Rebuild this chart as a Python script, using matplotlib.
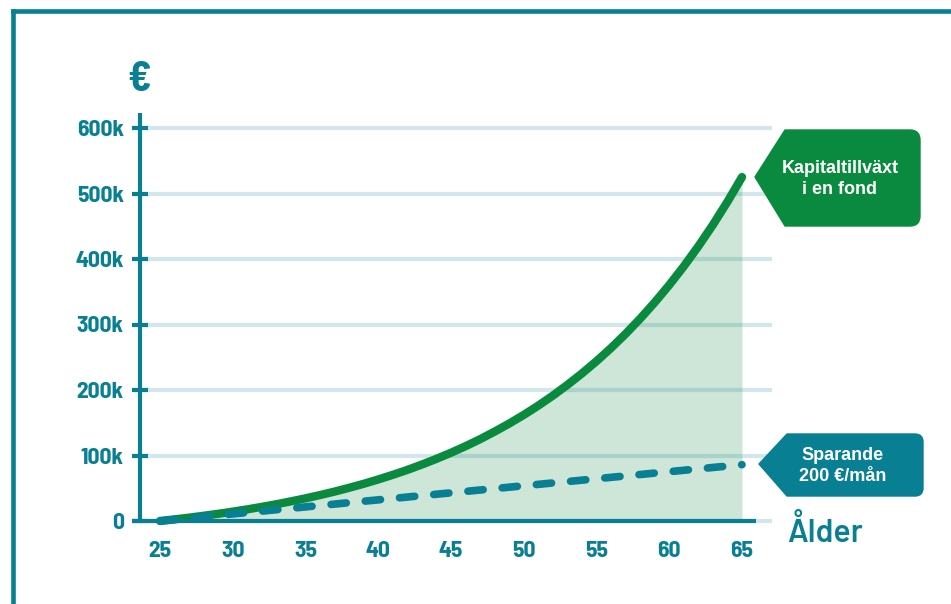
import matplotlib
matplotlib.use("Agg")
import matplotlib.pyplot as plt
from matplotlib import font_manager
from matplotlib.path import Path
from matplotlib.patches import PathPatch
from matplotlib.lines import Line2D
from matplotlib.ticker import FixedLocator, FixedFormatter

# ---------------- data ----------------
ages = list(range(25, 66))
capital_k = [0, 2.5, 5.1, 8.0, 11.0, 14.3, 17.8, 21.6, 25.6, 30.0,
             34.6, 39.6, 44.9, 50.7, 56.8, 63.4, 70.5, 78.0, 86.2, 94.9,
             104.2, 114.2, 124.9, 136.5, 148.8, 162.0, 176.2, 191.4, 207.8, 225.3,
             244.0, 264.1, 285.7, 308.9, 333.7, 360.3, 388.8, 419.4, 452.2, 487.4,
             525.1]
savings_ages = [25, 30, 35, 40, 45, 50, 55, 60, 65]
savings_k = [0, 10.8, 21.5, 32.3, 43.0, 53.8, 64.5, 75.3, 86.0]
xticks = [25, 30, 35, 40, 45, 50, 55, 60, 65]
yticks_k = [0, 100, 200, 300, 400, 500, 600]
ytick_labels = ["0", "100k", "200k", "300k", "400k", "500k", "600k"]
label_fund = "Kapitaltillväxt\ni en fond"
label_save = "Sparande\n200 €/mån"
xlabel = "Ålder"
ylabel = "€"

TEAL = "#087f93"
GREEN = "#0a8a3f"
FILL = "#cde6d7"


def pick(fams):
    for f in fams:
        try:
            font_manager.findfont(font_manager.FontProperties(family=f), fallback_to_default=False)
            return f
        except Exception:
            pass
    return "DejaVu Sans"

COND = pick(["Barlow Semi Condensed", "Barlow Condensed", "Roboto Condensed",
             "IBM Plex Sans Condensed", "DejaVu Sans"])
BOX = pick(["Liberation Sans", "Arimo", "DejaVu Sans"])
LAB = pick(["Barlow", "Lato", "Open Sans", "DejaVu Sans"])

W, H = 951, 604
fig = plt.figure(figsize=(W / 100, H / 100), dpi=100)

# axes mapping: x 25 -> px160, 65 -> px742 ; y 0 -> px521, 600k -> px128
pxx = (742 - 160) / 40.0
pxy = (521 - 128) / 600.0
ax_l, ax_r = 132, 772
ax_t, ax_b = 113, 527.5
xmin = 25 - (160 - ax_l) / pxx
xmax = 65 + (ax_r - 742) / pxx
ymin = -(ax_b - 521) / pxy
ymax = (521 - ax_t) / pxy
ax = fig.add_axes([ax_l / W, 1 - ax_b / H, (ax_r - ax_l) / W, (ax_b - ax_t) / H])
ax.set_xlim(xmin, xmax)
ax.set_ylim(ymin, ymax)
ax.patch.set_alpha(0)

yaxis_x = 25 - (160 - 140) / pxx
xaxis_end = 65 + (756 - 742) / pxx

for s in ["top", "right"]:
    ax.spines[s].set_visible(False)
ax.spines["left"].set_position(("data", yaxis_x))
ax.spines["left"].set_bounds(0, ymax)
ax.spines["bottom"].set_position(("data", 0))
ax.spines["bottom"].set_bounds(xmin, xaxis_end)
for s in ["left", "bottom"]:
    ax.spines[s].set_color(TEAL)
    ax.spines[s].set_linewidth(3.0)
    ax.spines[s].set_capstyle("butt")
    ax.spines[s].set_zorder(5)

ax.yaxis.set_major_locator(FixedLocator(yticks_k))
ax.yaxis.set_major_formatter(FixedFormatter(ytick_labels))
ax.tick_params(axis="y", direction="inout", length=11.5, width=3.0, color=TEAL,
               labelcolor=TEAL, pad=6.0, labelsize=17)
ax.xaxis.set_major_locator(FixedLocator(xticks))
ax.tick_params(axis="x", length=0, labelcolor=TEAL, pad=14.5, labelsize=17)
for lab in ax.get_xticklabels() + ax.get_yticklabels():
    lab.set_family(COND)
    lab.set_fontweight("bold")

ax.grid(axis="y", color=TEAL, alpha=0.18, linewidth=3.0, zorder=2)
ax.set_axisbelow(False)
for gl in ax.get_ygridlines():
    gl.set_zorder(2)

ax.fill_between(ages, 0, capital_k, color=FILL, linewidth=0, zorder=1)
ax.plot(ages, capital_k, color=GREEN, lw=6, solid_capstyle="round", zorder=3)
ax.plot(savings_ages, savings_k, color=TEAL, lw=5.5, dashes=(2.0, 2.5),
        dash_capstyle="round", zorder=4)

ax.set_xlabel(xlabel, color=TEAL, fontsize=23, fontweight="semibold", family=LAB,
              va="center", ha="center")
ax.xaxis.set_label_coords((825 - ax_l) / (ax_r - ax_l), (ax_b - 531) / (ax_b - ax_t))
ax.set_ylabel(ylabel, color=TEAL, fontsize=30, fontweight="bold", family=COND,
              rotation=0, va="center", ha="center")
ax.yaxis.set_label_coords((139 - ax_l) / (ax_r - ax_l), (ax_b - 80) / (ax_b - ax_t))


# ---------------- tag boxes ----------------
def tag(tip_x, tip_y, diag_x, top, bot, right, r, color):
    pts = [(tip_x, tip_y), (diag_x, top), (right - r, top), (right, top),
           (right, top + r), (right, bot - r), (right, bot), (right - r, bot),
           (diag_x, bot), (tip_x, tip_y)]
    codes = [Path.MOVETO, Path.LINETO, Path.LINETO, Path.CURVE3, Path.CURVE3,
             Path.LINETO, Path.CURVE3, Path.CURVE3, Path.LINETO, Path.CLOSEPOLY]
    verts = [(x / W, 1 - y / H) for x, y in pts]
    p = PathPatch(Path(verts, codes), facecolor=color, edgecolor=color, lw=1,
                  transform=fig.transFigure, joinstyle="round")
    fig.add_artist(p)

tag(755, 177, 785, 130, 226, 920, 10, GREEN)
tag(759, 464, 787, 434, 496, 923, 8, TEAL)

fig.text(840 / W, 1 - 179 / H, label_fund, color="white", fontsize=13,
         fontweight="bold", family=BOX, ha="center", va="center", linespacing=1.25)
fig.text(843 / W, 1 - 466 / H, label_save, color="white", fontsize=13,
         fontweight="bold", family=BOX, ha="center", va="center", linespacing=1.25)

# ---------------- frame ----------------
fig.add_artist(Line2D([12.5 / W, 1.0], [1 - 11 / H, 1 - 11 / H], color=TEAL, lw=3.3,
                      transform=fig.transFigure, solid_capstyle="projecting"))
fig.add_artist(Line2D([12.5 / W, 12.5 / W], [1 - 11 / H, 0], color=TEAL, lw=3.3,
                      transform=fig.transFigure, solid_capstyle="projecting"))

fig.savefig("out.png", dpi=100)
